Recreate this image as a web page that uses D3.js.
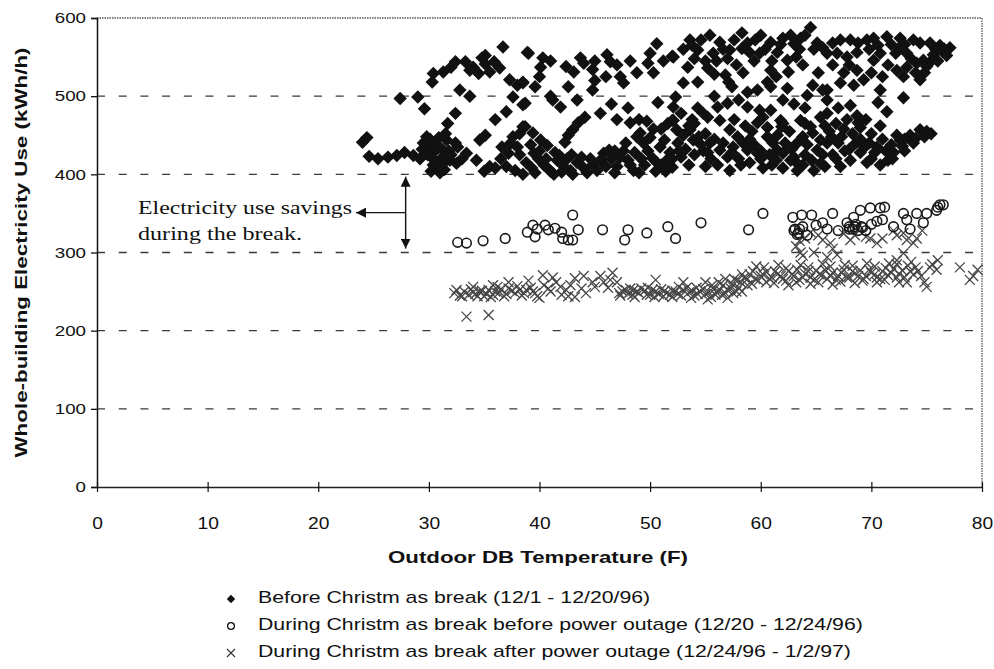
<!DOCTYPE html>
<html>
<head>
<meta charset="utf-8">
<script src="https://cdn.jsdelivr.net/npm/d3@7"></script>
<style>
  html, body { margin: 0; padding: 0; background: #fff; }
  svg { display: block; }
</style>
</head>
<body>
<svg id="chart" width="994" height="669"></svg>
<script>
// Outdoor temperature (F) vs whole-building electricity use (kWh/h)

// Before Christmas break (12/1 - 12/20/96)
const beforeBreak = [
  [24.0,441],[24.4,447],[24.6,423],[25.4,420],[26.3,422],[27.1,424],[27.8,428],[28.6,424],[29.2,420],
  [29.8,448],[30.0,436],[30.3,428],[30.5,418],[30.8,410],[31.0,402],[30.2,404],[31.3,414],[31.5,425],
  [30.6,440],[31.2,432],[31.6,444],[31.5,452],[31.7,465],[32.4,478],[32.4,440],[32.6,435],[33.4,427],
  [34.3,418],[35.5,410],[32.5,414],[31.9,418],[34.6,444],[35.1,450],[36.6,435],[37.2,427],[37.6,448],
  [38.2,452],[38.5,461],[36.0,408],[35.0,404],[33.0,420],[29.4,432],
  [29.5,440],[30.1,445],[30.7,432],[31.1,420],[30.4,412],[29.9,425],[31.8,430],[30.9,447],[32.0,425],
  [31.4,406],
  [27.4,497],[29.0,499],[29.6,484],[30.3,518],[30.4,529],[31.3,531],[32.0,537],[32.4,544],[33.3,544],
  [34.0,537],[34.8,549],[35.1,541],[35.5,531],[33.7,533],[34.5,529],[32.8,508],[33.7,500],[35.1,552],
  [36.7,563],[38.9,556],[37.3,521],[38.0,514],[38.5,518],[37.6,499],[38.5,489],[36.4,536],[35.9,544],
  [36.0,470],[37.0,480],
  [39.0,555],[40.3,549],[40.1,537],[43.7,549],[43.1,531],[44.8,534],[38.5,517],[39.6,512],[42.6,512],
  [44.8,508],[38.7,491],[41.2,495],[41.9,486],[43.4,495],[44.1,473],[43.5,466],[43.0,457],[42.6,450],
  [42.3,441],[38.7,461],[39.4,453],[40.1,444],[40.7,437],
  [41.0,545],[42.4,538],[44.0,542],[45.0,545],[40.0,525],[41.0,500],[45.0,520],
  [38.2,425],[38.8,415],[39.3,408],[39.9,420],[40.4,412],[41.0,404],[41.6,418],[42.2,410],[42.8,405],
  [43.4,415],[44.0,408],[44.6,420],[40.0,430],[41.4,428],[42.9,425],[38.0,435],[39.2,438],[44.3,402],
  [41.3,400],[45.8,427],[46.3,431],
  [37.0,410],[37.8,405],[38.5,400],[39.6,402],[40.6,420],[41.8,424],[42.5,420],[43.0,400],[43.8,422],
  [44.8,412],[45.2,405],[45.5,418],[46.0,410],[39.5,427],[40.8,407],[42.0,403],[36.5,420],[37.4,440],
  [46.1,553],[46.4,544],[47.3,525],[47.6,517],[48.8,530],[49.8,542],[50.3,530],[50.6,567],[52.0,551],
  [47.0,540],[48.2,545],[50.0,555],[51.2,545],[46.0,525],[45.5,478],[46.5,490],[47.0,470],
  [48.0,485],[50.7,492],[52.1,486],[48.2,466],[49.0,470],[49.7,468],[49.1,453],[49.4,440],[47.3,422],
  [48.0,418],[50.2,421],[50.9,435],[51.5,418],[52.0,409],[52.1,469],[52.4,457],[47.0,410],[48.5,405],
  [49.5,412],[50.5,404],[51.0,412],[46.8,430],[48.6,428],[51.8,428],[50.0,447],[51.3,444],[51.0,458],
  [49.0,402],
  [46.5,420],[47.6,430],[48.2,412],[49.2,420],[49.8,430],[50.6,415],[51.4,404],[52.0,420],[47.8,440],
  [48.8,448],[50.3,458],[51.6,465],[46.8,402],
  [64.5,588],[53.6,572],[55.4,578],[56.3,569],[58.3,581],[59.5,572],[60.9,569],[62.7,578],[63.6,574],
  [65.1,568],[54.3,559],[55.7,555],[57.2,559],[58.3,561],[59.0,556],[59.9,555],[61.5,556],[62.4,546],
  [52.1,550],[53.4,537],[55.2,536],[62.5,531],[60.9,533],
  [53.8,565],[54.6,572],[55.0,545],[56.6,560],[57.6,572],[58.8,568],[60.0,578],[60.4,560],[61.8,566],
  [62.0,574],[63.0,567],[64.0,578],[64.8,560],[65.6,562],[63.2,550],[59.4,545],[57.0,548],[54.0,548],
  [55.8,528],[58.4,530],[61.4,525],[63.8,540],[65.2,530],
  [56.8,527],[57.1,518],[57.4,512],[60.6,518],[60.9,512],[59.7,508],[58.8,505],[62.4,510],[64.2,501],
  [64.7,514],[66.0,508],[53.0,517],[54.3,518],[52.3,499],
  [63.0,490],[64.0,485],[62.0,495],[58.0,495],[55.8,500],
  [54.3,485],[55.2,473],[56.1,486],[57.0,491],[58.8,486],[59.9,482],[60.9,482],[61.8,469],[61.9,461],
  [63.6,469],[64.5,461],[65.4,473],[66.0,478],
  [52.0,469],[53.6,457],[53.9,444],[52.5,440],[53.2,432],[54.0,425],[54.8,430],[52.8,422],[55.5,420],
  [52.6,430],[53.0,450],[53.5,462],[54.4,448],[54.6,438],[55.2,428],[55.8,445],[53.8,470],[54.8,478],
  [52.8,478],[55.0,410],[53.5,412],
  [56.3,469],[57.2,457],[57.9,448],[58.4,440],[59.7,466],[60.2,473],[55.4,440],[56.3,431],[57.0,422],
  [56.1,412],[58.8,431],[59.7,427],[60.6,448],[61.1,440],
  [61.5,431],[62.0,427],[62.7,418],[63.3,414],[63.8,412],[63.3,440],[63.8,448],[64.7,453],[65.1,431],
  [65.6,425],[66.0,440],[63.3,405],[58.0,420],[59.0,415],[60.0,420],[61.0,412],[62.0,408],[57.5,435],
  [55.0,452],[54.0,465],[59.2,455],[62.6,455],[64.0,425],
  [56.6,440],[57.4,428],[58.2,412],[59.4,438],[60.0,430],[60.8,425],[61.4,418],[62.2,440],[62.8,432],
  [64.2,438],[64.6,418],[65.4,444],[65.8,462],[64.0,465],[62.0,465],[60.6,460],[59.0,445],[57.6,470],
  [58.6,462],[61.5,450],[63.0,422],[64.8,405],[65.8,410],[60.2,408],[57.2,405],
  [56.0,545],[57.8,540],[61.0,545],[63.5,560],[53.0,560],[66.0,555],
  [66.5,568],[68.1,572],[70.2,574],[71.4,576],[72.6,574],[73.8,572],[66.9,555],[67.8,550],[68.7,556],
  [70.2,546],[70.8,555],[72.6,563],[73.2,555],[75.3,568],[76.2,565],[77.1,562],
  [67.2,572],[68.8,568],[69.6,572],[70.6,565],[71.8,566],[73.0,566],[74.4,568],[75.8,560],[76.6,560],
  [69.8,560],[68.0,540],[71.5,540],[73.6,548],[74.8,530],[75.4,545],[71.0,525],[70.0,530],[67.5,530],
  [66.5,540],[72.2,555],[76.8,552],
  [72.3,533],[73.2,537],[74.1,542],[74.7,546],[75.6,553],[76.5,556],[74.0,530],[75.0,538],[76.0,545],
  [72.9,525],[74.4,521],[68.7,533],[69.3,521],[68.4,514],[67.2,517],[70.8,508],[70.6,492],[71.4,480],
  [72.9,498],[65.6,508],[66.0,495],[67.0,485],[68.1,488],[68.7,475],
  [66.8,465],[67.5,458],[68.3,452],[69.0,445],[69.8,440],[70.5,435],[71.3,430],[72.0,428],[72.6,444],
  [73.5,450],[74.4,457],[75.0,455],[74.0,446],[67.0,440],[68.0,432],[69.0,428],[70.0,420],[68.1,418],
  [66.5,425],[65.4,414],[67.2,410],[71.0,445],[70.0,452],[69.0,460],[67.8,470],[66.2,455],[71.5,418],
  [72.8,436],
  [66.4,448],[67.3,448],[68.6,440],[69.4,435],[70.3,428],[71.8,438],[72.3,450],[73.0,445],[73.8,440],
  [70.8,462],[69.5,470],[68.8,466],[67.6,430],[66.8,420],[69.6,415],[70.8,412],[71.9,420],[73.0,430],
  [74.8,448],[75.4,452]
];

// During Christmas break, before the power outage (12/20 - 12/24/96)
const duringBeforeOutage = [
  [32.6,313],[33.4,312],[34.9,315],[36.9,318],[38.9,326],[39.4,335],[39.6,320],[39.8,330],[40.5,335],
  [40.8,329],[41.4,331],[42.0,326],[42.1,318],[42.6,316],[43.0,348],[43.5,329],[43.0,316],[45.7,329],
  [48.0,329],[47.7,316],[49.7,325],[51.6,333],[52.3,318],[54.6,338],
  [58.9,329],[60.2,350],[62.9,345],[63.7,348],[64.6,348],[63.1,330],[63.4,325],[63.8,333],[64.2,322],
  [65.0,335],[65.6,338],[66.5,350],[66.0,330],[67.0,328],[67.8,338],[68.4,345],[69.0,354],[69.9,357],
  [70.8,357],[71.2,358],[68.5,333],[69.2,332],[70.0,336],[70.5,340],[71.0,342],[72.0,333],[72.9,350],
  [73.2,342],[74.1,350],[74.7,338],[75.0,350],[75.9,354],[76.2,361],[76.5,361],[76.0,358],[73.5,330],
  [68.0,330],[69.5,328],[63.0,328],[63.5,330],[63.3,323],[68.0,333],[68.3,330],[68.8,328],[69.1,333],
  [68.6,336]
];

// During Christmas break, after the power outage (12/24/96 - 1/2/97)
const duringAfterOutage = [
  [32.3,248],[32.8,245],[33.2,250],[33.6,246],[34.0,249],[34.4,244],[34.8,251],[35.2,247],[35.6,243],
  [36.0,250],[36.5,253],[37.0,247],[37.5,251],[38.0,257],[38.4,245],[38.8,252],[39.2,255],[39.6,248],
  [40.0,242],[40.4,258],
  [32.5,252],[33.0,244],[33.8,253],[34.2,247],[34.6,250],[35.0,244],[35.4,252],[35.8,246],[36.3,248],
  [36.8,244],[37.2,254],[37.8,248],[38.2,252],[38.6,248],[39.4,250],[39.8,244],[36.2,256],[34.0,256],
  [33.4,218],[35.4,220],[40.3,271],[41.9,256],[43.2,267],[43.2,243],[44.8,262],[46.6,274],[47.0,262],
  [47.3,245],[50.5,265],[37.2,262],[35.8,258],[39.0,264],[41.0,250],[42.0,246],[45.5,270],[46.2,255],
  [40.8,254],[41.5,262],[42.4,252],[42.8,258],[43.8,254],[44.2,248],[45.0,256],[45.8,262],[46.4,265],
  [44.0,270],[41.2,268],[42.6,244],
  [47.5,250],[48.0,247],[48.5,252],[49.0,248],[49.5,251],[50.0,246],[50.5,250],[51.0,253],[51.5,248],
  [52.0,251],[52.5,247],[53.0,252],[53.5,249],[48.2,254],[49.8,255],[51.2,244],[52.6,256],[53.0,262],
  [47.2,248],[47.8,252],[48.4,246],[48.8,250],[49.2,254],[49.7,246],[50.2,252],[50.8,247],[51.3,251],
  [51.8,246],[52.3,250],[52.8,245],[53.3,255],[53.8,251],[54.3,247],[54.8,253],[55.3,249],[55.9,246],
  [56.3,252],[56.8,248],[57.3,254],[57.8,250],[48.6,243],[50.4,243],[52.0,243],[53.7,242],[55.6,258],
  [56.6,258],[57.6,266],[58.2,262],[55.0,262],
  [54.0,245],[54.5,250],[55.0,247],[55.5,243],[56.0,249],[56.5,246],[57.0,252],[57.5,248],[58.0,255],
  [54.2,255],[55.8,253],[56.2,262],[56.8,266],[57.4,260],[57.9,264],[55.2,240],[57.0,242],[58.3,250],
  [58.5,268],[59.0,272],[59.5,266],[60.0,270],[60.5,275],[61.0,268],[61.5,272],[62.0,266],[62.5,276],
  [63.0,270],[63.5,265],[64.0,273],[64.5,268],[65.0,277],[65.5,271],[66.0,266],[66.5,274],[67.0,270],
  [67.5,278],[68.0,268],[68.5,273],[69.0,277],[69.5,270],[70.0,274],[70.5,268],[71.0,276],[71.5,271],
  [72.0,279],[72.5,273],[73.0,268],[73.5,276],[74.0,281],[59.2,260],[61.2,261],[63.2,262],[65.2,262],
  [67.2,263],[69.2,264],[71.2,265],[73.2,262],[60.3,281],[62.3,280],[64.3,281],[66.3,282],[68.3,283],
  [70.3,282],[72.3,285],[58.8,258],[74.5,270],
  [58.3,272],[58.8,266],[59.3,276],[59.8,264],[60.2,272],[60.8,266],[61.3,276],[61.8,270],[62.3,264],
  [62.8,272],[63.3,278],[63.8,268],[64.3,276],[64.8,265],[65.3,272],[65.8,278],[66.3,270],[66.8,265],
  [67.3,274],[67.8,268],[68.3,276],[68.8,270],[69.3,266],[69.8,278],[70.3,272],[70.8,266],[71.3,280],
  [71.8,274],[72.3,268],[72.8,277],[73.3,283],[73.8,272],[74.2,276],[59.6,282],[61.6,284],[63.6,284],
  [65.6,285],[67.6,284],[69.6,286],[71.6,286],[73.6,288],[60.5,262],[62.5,258],[64.5,260],[66.5,259],
  [68.5,261],[70.5,262],[72.5,262],
  [63.6,300],[63.8,296],[66.0,294],[66.9,297],[65.6,316],[66.3,312],[68.1,316],[69.9,318],[72.3,322],
  [72.9,325],[74.1,318],[72.3,290],[72.9,299],[63.5,315],[64.0,318],[70.5,312],[73.8,312],
  [64.5,326],[65.2,322],[67.5,324],[68.5,322],[69.5,320],[71.0,318],[72.0,328],[74.6,328],[73.2,316],
  [66.5,305],[64.8,300],[63.2,308],
  [75.3,281],[75.5,285],[75.9,278],[75.0,256],[74.8,262],[78.0,281],[78.9,265],[79.6,278],[79.2,270],
  [76.0,290]
];

const xTicks = [0, 10, 20, 30, 40, 50, 60, 70, 80];
const yTicks = [0, 100, 200, 300, 400, 500, 600];
const gridValues = [100, 200, 300, 400, 500];

const legendLabels = [
  "Before Christm as break (12/1 - 12/20/96)",
  "During Christm as break before power outage (12/20 - 12/24/96)",
  "During Christm as break after power outage (12/24/96 - 1/2/97)"
];

const svg = d3.select("#chart");
const plot = { left: 97, right: 982, top: 18, bottom: 487 };

const x = d3.scaleLinear().domain([0, 80]).range([plot.left, plot.right]);
const y = d3.scaleLinear().domain([0, 600]).range([plot.bottom, plot.top]);

const sans = "'Liberation Sans', Arial, Helvetica, sans-serif";
const serif = "'Liberation Serif', 'Times New Roman', serif";

// widen glyphs horizontally by a factor (the typeface here runs wide)
function widen(sel, factor) {
  sel.each(function () {
    const w = this.getComputedTextLength();
    d3.select(this)
      .attr("textLength", w * factor)
      .attr("lengthAdjust", "spacingAndGlyphs");
  });
}

// dashed horizontal gridlines
svg.append("g")
  .selectAll("line")
  .data(gridValues)
  .join("line")
  .attr("x1", plot.left).attr("x2", plot.right)
  .attr("y1", d => y(d)).attr("y2", d => y(d))
  .attr("stroke", "#3a3a3a")
  .attr("stroke-width", 1.3)
  .attr("stroke-dasharray", "8,13.7");

// dotted top and right frame
svg.append("path")
  .attr("d", `M${plot.left},${plot.top}H${plot.right}V${plot.bottom}`)
  .attr("fill", "none")
  .attr("stroke", "#555")
  .attr("stroke-width", 1.3)
  .attr("stroke-dasharray", "1.5,1");

const diamond = d3.symbol().type(d3.symbolDiamond2).size(115);

// crosses (after outage)
svg.append("g")
  .selectAll("path")
  .data(duringAfterOutage)
  .join("path")
  .attr("transform", d => `translate(${x(d[0])},${y(d[1])})`)
  .attr("d", "M-5,-5L5,5M-5,5L5,-5")
  .attr("fill", "none")
  .attr("stroke", "#474747")
  .attr("stroke-width", 1.3);

// open circles (before outage)
svg.append("g")
  .selectAll("circle")
  .data(duringBeforeOutage)
  .join("circle")
  .attr("cx", d => x(d[0]))
  .attr("cy", d => y(d[1]))
  .attr("r", 4.8)
  .attr("fill", "none")
  .attr("stroke", "#1a1a1a")
  .attr("stroke-width", 1.6);

// filled diamonds (before break)
svg.append("g")
  .selectAll("path")
  .data(beforeBreak)
  .join("path")
  .attr("transform", d => `translate(${x(d[0])},${y(d[1])})`)
  .attr("d", diamond)
  .attr("fill", "#111");

// left axis
const yAxis = d3.axisLeft(y).tickValues(yTicks).tickSize(6).tickPadding(5);
const gy = svg.append("g")
  .attr("transform", `translate(${plot.left},0)`)
  .call(yAxis);
gy.select(".domain").attr("stroke", "#111").attr("stroke-width", 1.5);
gy.selectAll(".tick line").attr("stroke", "#111").attr("stroke-width", 1.3);
gy.selectAll(".tick text")
  .attr("font-family", sans).attr("font-size", 15).attr("fill", "#111");
widen(gy.selectAll(".tick text"), 1.25);

// bottom axis, ticks crossing the line
const xAxis = d3.axisBottom(x).tickValues(xTicks).tickSize(5).tickPadding(26).tickSizeOuter(0);
const gx = svg.append("g")
  .attr("transform", `translate(0,${plot.bottom})`)
  .call(xAxis);
gx.select(".domain").attr("stroke", "#222").attr("stroke-width", 1.6);
gx.selectAll(".tick line").attr("y1", -5).attr("stroke", "#111").attr("stroke-width", 1.2);
gx.selectAll(".tick text")
  .attr("font-family", sans).attr("font-size", 16).attr("fill", "#111");
widen(gx.selectAll(".tick text"), 1.2);

// axis titles
svg.append("text")
  .attr("transform", `translate(23,${(plot.top + plot.bottom) / 2}) rotate(-90)`)
  .attr("text-anchor", "middle")
  .attr("dominant-baseline", "middle")
  .attr("font-family", sans).attr("font-weight", "bold").attr("font-size", 17)
  .attr("fill", "#111")
  .attr("textLength", 410).attr("lengthAdjust", "spacingAndGlyphs")
  .text("Whole-building Electricity Use (kWh/h)");

svg.append("text")
  .attr("x", 538).attr("y", 563)
  .attr("text-anchor", "middle")
  .attr("font-family", sans).attr("font-weight", "bold").attr("font-size", 17)
  .attr("fill", "#111")
  .attr("textLength", 300).attr("lengthAdjust", "spacingAndGlyphs")
  .text("Outdoor DB Temperature (F)");

// annotation: savings between the two regimes
const arrowX = x(27.9);
const defs = svg.append("defs");
defs.append("marker")
  .attr("id", "head")
  .attr("viewBox", "0 0 10 10")
  .attr("refX", 10).attr("refY", 5)
  .attr("markerWidth", 10).attr("markerHeight", 10)
  .attr("markerUnits", "userSpaceOnUse")
  .attr("orient", "auto-start-reverse")
  .append("path")
  .attr("d", "M0,0L10,5L0,10Z")
  .attr("fill", "#111");

svg.append("line")
  .attr("x1", arrowX).attr("x2", arrowX)
  .attr("y1", y(397)).attr("y2", y(305))
  .attr("stroke", "#111").attr("stroke-width", 1.4)
  .attr("marker-start", "url(#head)")
  .attr("marker-end", "url(#head)");

svg.append("line")
  .attr("x1", arrowX).attr("x2", 356)
  .attr("y1", y(351)).attr("y2", y(351))
  .attr("stroke", "#111").attr("stroke-width", 1.4)
  .attr("marker-end", "url(#head)");

svg.append("text")
  .attr("x", 138).attr("y", 214)
  .attr("font-family", serif).attr("font-size", 19).attr("fill", "#111")
  .attr("textLength", 214).attr("lengthAdjust", "spacingAndGlyphs")
  .text("Electricity use savings");
svg.append("text")
  .attr("x", 138).attr("y", 240)
  .attr("font-family", serif).attr("font-size", 19).attr("fill", "#111")
  .attr("textLength", 164).attr("lengthAdjust", "spacingAndGlyphs")
  .text("during the break.");

// legend
const legend = svg.append("g").attr("transform", "translate(231,599)");
const rows = legend.selectAll("g")
  .data(legendLabels)
  .join("g")
  .attr("transform", (d, i) => `translate(0,${i * 27})`);

rows.filter((d, i) => i === 0).append("path")
  .attr("d", d3.symbol().type(d3.symbolDiamond2).size(45))
  .attr("fill", "#111");
rows.filter((d, i) => i === 1).append("circle")
  .attr("r", 3.4).attr("fill", "none").attr("stroke", "#111").attr("stroke-width", 1.3);
rows.filter((d, i) => i === 2).append("path")
  .attr("d", "M-4,-4L4,4M-4,4L4,-4")
  .attr("stroke", "#333").attr("stroke-width", 1.1);

const legendText = rows.append("text")
  .attr("x", 27).attr("y", 0)
  .attr("dominant-baseline", "middle")
  .attr("font-family", sans).attr("font-size", 17).attr("fill", "#111")
  .text(d => d);
widen(legendText, 1.25);
</script>
</body>
</html>
